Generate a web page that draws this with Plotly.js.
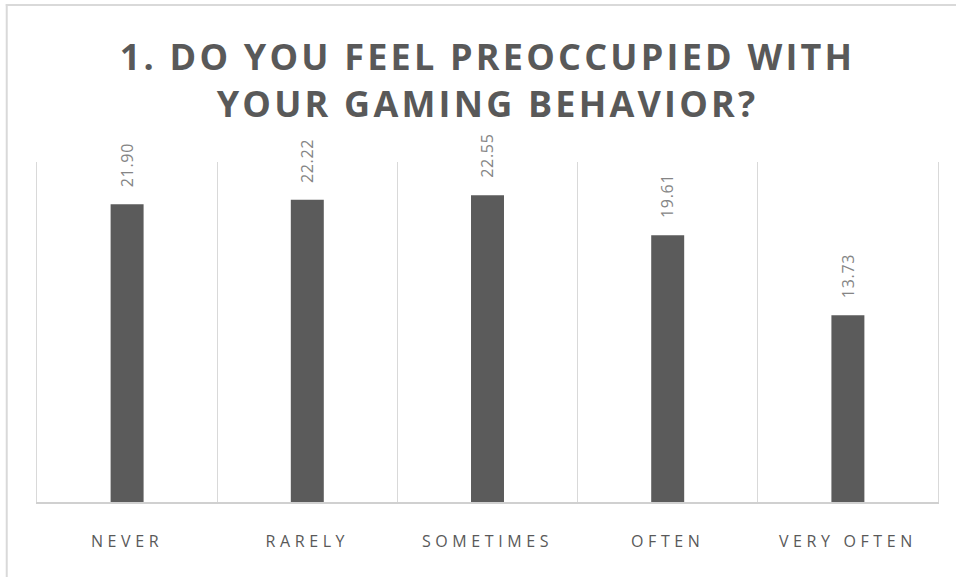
<!DOCTYPE html>
<html>
<head>
<meta charset="utf-8">
<script src="https://cdn.plot.ly/plotly-3.0.1.min.js"></script>
<style>
  html, body { margin: 0; padding: 0; background: #fff; }
  #chart { width: 956px; height: 577px; }
  .gtitle { letter-spacing: 3.2px; }
  .xtick text { letter-spacing: 4.6px; }
  .annotation-text { letter-spacing: 0.7px; }
</style>
</head>
<body>
<div id="chart"></div>
<script>
const categories = ["NEVER", "RARELY", "SOMETIMES", "OFTEN", "VERY OFTEN"];
const values = [21.90, 22.22, 22.55, 19.61, 13.73];
const valueLabels = ["21.90", "22.22", "22.55", "19.61", "13.73"];
const titleText = "1. DO YOU FEEL PREOCCUPIED WITH<br>YOUR GAMING BEHAVIOR?";

const trace = {
  type: "bar",
  x: categories,
  y: values,
  marker: { color: "#5b5b5b" },
  hoverinfo: "none"
};

const annotations = categories.map((c, i) => ({
  x: c,
  y: values[i],
  xref: "x",
  yref: "y",
  text: valueLabels[i],
  showarrow: false,
  textangle: -90,
  xanchor: "center",
  yanchor: "bottom",
  yshift: 15,
  font: { family: "Open Sans, sans-serif", size: 16, color: "#858585" }
}));

const layout = {
  width: 956,
  height: 577,
  margin: { l: 37, r: 18, t: 162, b: 75 },
  paper_bgcolor: "#ffffff",
  plot_bgcolor: "#ffffff",
  showlegend: false,
  bargap: 0.817,
  title: {
    text: titleText,
    x: 0.51,
    xanchor: "center",
    xref: "container",
    y: 0.878,
    yanchor: "middle",
    yref: "container",
    font: { family: "Open Sans, sans-serif", size: 36, color: "#595959", weight: "bold" }
  },
  xaxis: {
    type: "category",
    tickson: "boundaries",
    showgrid: true,
    gridcolor: "#d9d9d9",
    gridwidth: 1,
    showline: true,
    linecolor: "#d0d0d0",
    linewidth: 2,
    ticks: "",
    ticklabelstandoff: 24,
    tickfont: { family: "Open Sans, sans-serif", size: 16, color: "#595959" },
    fixedrange: true
  },
  yaxis: {
    range: [0, 25],
    showgrid: false,
    zeroline: false,
    showticklabels: false,
    showline: true,
    mirror: true,
    linecolor: "#d9d9d9",
    linewidth: 1,
    ticks: "",
    fixedrange: true
  },
  annotations: annotations,
  shapes: [
    {
      type: "line", xref: "paper", yref: "paper",
      x0: -0.0336, x1: -0.0336, y0: 1.465, y1: -0.3,
      line: { color: "#d9d9d9", width: 2 }
    },
    {
      type: "line", xref: "paper", yref: "paper",
      x0: -0.0346, x1: 1.1, y0: 1.462, y1: 1.462,
      line: { color: "#d9d9d9", width: 2 }
    }
  ]
};

Plotly.newPlot("chart", [trace], layout, { staticPlot: true, displayModeBar: false });
</script>
</body>
</html>
